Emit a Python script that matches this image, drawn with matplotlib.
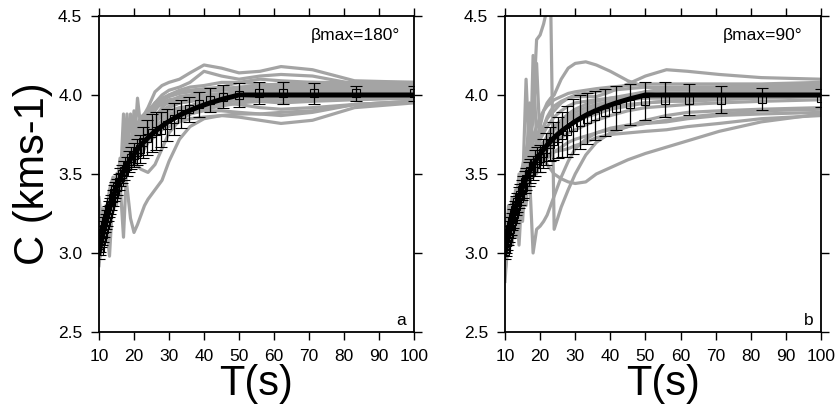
# %%
# Phase velocity dispersion curves, two panels (a, b)
import matplotlib
matplotlib.use('Agg')
import matplotlib.pyplot as plt

plt.rcParams['font.family'] = ['Liberation Sans', 'DejaVu Sans']

# %%
# Data

# periods of the measured points (s)
periods = [10.0, 10.2, 10.4, 10.6, 10.9, 11.1, 11.4, 11.6, 11.9, 12.2,
           12.5, 12.8, 13.2, 13.5, 13.9, 14.3, 14.7, 15.2, 15.6, 16.1,
           16.7, 17.2, 17.9, 18.5, 19.2, 20.0, 20.8, 21.7, 22.7, 23.8,
           25.0, 26.3, 27.8, 29.4, 31.3, 33.3, 35.7, 38.5, 41.7, 45.5,
           50.0, 55.6, 62.5, 71.4, 83.3, 100.0]

# reference model (thick black line)
model_c = [3.000, 3.025, 3.050, 3.075, 3.100, 3.125, 3.150, 3.175, 3.200, 3.225,
           3.250, 3.275, 3.300, 3.325, 3.350, 3.375, 3.400, 3.425, 3.450, 3.475,
           3.500, 3.525, 3.550, 3.575, 3.600, 3.625, 3.650, 3.675, 3.700, 3.725,
           3.750, 3.775, 3.800, 3.825, 3.850, 3.875, 3.900, 3.925, 3.950, 3.975,
           4.000, 4.000, 4.000, 4.000, 4.000, 4.000]

# mean + std of the measurements, panel a (beta max = 180)
mean_a = [3.01, 3.03, 3.05, 3.08, 3.10, 3.12, 3.15, 3.18, 3.20, 3.22,
          3.25, 3.28, 3.30, 3.32, 3.35, 3.38, 3.40, 3.42, 3.45, 3.48,
          3.50, 3.52, 3.55, 3.58, 3.60, 3.62, 3.64, 3.66, 3.70, 3.73,
          3.76, 3.77, 3.78, 3.81, 3.85, 3.88, 3.91, 3.94, 3.97, 3.99,
          4.00, 4.01, 4.01, 4.01, 4.01, 4.01]
err_a = [0.045, 0.045, 0.045, 0.045, 0.05, 0.05, 0.05, 0.05, 0.05, 0.05,
         0.05, 0.05, 0.05, 0.05, 0.05, 0.05, 0.05, 0.05, 0.05, 0.055,
         0.055, 0.06, 0.06, 0.065, 0.07, 0.075, 0.08, 0.09, 0.10, 0.11,
         0.12, 0.12, 0.11, 0.10, 0.10, 0.09, 0.08, 0.078, 0.076, 0.075,
         0.074, 0.07, 0.07, 0.065, 0.05, 0.045]

# mean + std of the measurements, panel b (beta max = 90)
mean_b = [3.01, 3.03, 3.05, 3.07, 3.10, 3.12, 3.15, 3.17, 3.20, 3.22,
          3.25, 3.27, 3.30, 3.32, 3.35, 3.37, 3.40, 3.42, 3.45, 3.47,
          3.50, 3.52, 3.54, 3.57, 3.59, 3.60, 3.63, 3.66, 3.69, 3.71,
          3.73, 3.75, 3.77, 3.80, 3.83, 3.85, 3.87, 3.89, 3.92, 3.94,
          3.96, 3.97, 3.97, 3.97, 3.975, 3.98]
err_b = [0.05, 0.05, 0.05, 0.05, 0.05, 0.05, 0.055, 0.055, 0.055, 0.06,
         0.06, 0.06, 0.06, 0.06, 0.065, 0.065, 0.065, 0.07, 0.07, 0.07,
         0.075, 0.075, 0.075, 0.08, 0.08, 0.085, 0.09, 0.10, 0.11, 0.12,
         0.13, 0.14, 0.16, 0.175, 0.17, 0.16, 0.155, 0.15, 0.14, 0.13,
         0.12, 0.11, 0.097, 0.085, 0.07, 0.056]

# periods at which the gray (single inversion) curves were read
grid_t = [10, 11, 12, 13, 14, 15, 16, 17, 18, 19, 20, 21, 22, 23, 24,
          26, 28, 30, 33, 36, 40, 45, 50, 56, 62, 71, 83, 100]

gray_a = [
    [3.10, 3.20, 3.15, 3.35, 3.30, 3.50, 3.45, 3.60, 3.70, 3.65, 3.75, 3.80, 3.85, 3.88, 3.92, 4.02, 4.06, 4.08, 4.10, 4.14, 4.19, 4.17, 4.14, 4.15, 4.18, 4.16, 4.09, 4.08],
    [2.95, 3.15, 3.25, 3.20, 3.40, 3.35, 3.55, 3.50, 3.62, 3.70, 3.68, 3.75, 3.78, 3.82, 3.85, 3.95, 4.00, 4.03, 4.05, 4.08, 4.15, 4.12, 4.10, 4.12, 4.13, 4.12, 4.07, 4.06],
    [3.05, 3.05, 3.25, 3.20, 3.40, 3.38, 3.50, 3.45, 3.55, 3.58, 3.60, 3.62, 3.65, 3.68, 3.70, 3.74, 3.78, 3.80, 3.83, 3.85, 3.86, 3.87, 3.86, 3.84, 3.82, 3.84, 3.92, 3.95],
    [3.00, 3.10, 3.20, 3.28, 3.35, 3.40, 3.45, 3.50, 3.42, 3.22, 3.13, 3.18, 3.24, 3.30, 3.34, 3.40, 3.46, 3.58, 3.72, 3.80, 3.85, 3.87, 3.88, 3.88, 3.89, 3.90, 3.94, 3.96],
    [3.02, 3.12, 3.22, 3.30, 3.34, 3.42, 3.46, 3.52, 3.56, 3.58, 3.58, 3.55, 3.53, 3.52, 3.51, 3.56, 3.66, 3.76, 3.84, 3.88, 3.91, 3.93, 3.95, 3.96, 3.97, 3.97, 3.98, 3.98],
    [3.00, 3.20, 3.10, 3.35, 3.30, 3.45, 3.40, 3.88, 3.55, 3.62, 3.70, 3.72, 3.75, 3.78, 3.80, 3.84, 3.86, 3.88, 3.90, 3.92, 3.95, 3.98, 4.02, 4.04, 4.04, 4.05, 4.06, 4.06],
    [3.10, 3.05, 3.30, 3.25, 3.45, 3.35, 3.60, 3.45, 3.85, 3.60, 3.65, 3.98, 3.78, 3.80, 3.82, 3.86, 3.90, 3.93, 3.95, 3.96, 3.98, 4.00, 4.03, 4.05, 4.06, 4.06, 4.07, 4.07],
    [2.92, 3.15, 3.20, 2.98, 3.38, 3.40, 3.35, 3.60, 3.50, 3.65, 3.60, 3.70, 3.73, 3.75, 3.76, 3.82, 3.88, 3.92, 3.95, 3.96, 3.97, 3.98, 4.00, 4.01, 4.02, 4.03, 4.04, 4.05],
    [3.05, 3.12, 3.25, 3.32, 3.28, 3.50, 3.45, 3.10, 3.60, 3.70, 3.62, 3.68, 3.72, 3.75, 3.78, 3.84, 3.88, 3.90, 3.92, 3.93, 3.95, 3.96, 3.97, 3.97, 3.97, 3.98, 3.99, 4.00],
    [3.20, 3.10, 3.22, 3.38, 3.35, 3.42, 3.55, 3.50, 3.58, 3.88, 3.66, 3.70, 3.75, 3.78, 3.80, 3.86, 3.92, 3.96, 3.99, 4.00, 4.02, 4.03, 4.04, 4.06, 4.06, 4.05, 4.04, 4.04],
    [2.95, 3.08, 3.18, 3.26, 3.40, 3.38, 3.48, 3.55, 3.52, 3.60, 3.70, 3.65, 3.70, 3.72, 3.74, 3.78, 3.82, 3.85, 3.88, 3.92, 3.94, 3.95, 3.94, 3.92, 3.91, 3.92, 3.94, 3.96],
    [3.35, 3.15, 3.30, 3.22, 3.32, 3.48, 3.42, 3.65, 3.58, 3.62, 3.90, 3.75, 3.80, 3.85, 3.90, 3.95, 3.98, 4.00, 4.02, 4.03, 4.04, 4.05, 4.08, 4.10, 4.09, 4.08, 4.07, 4.07],
    [3.00, 3.18, 3.12, 3.30, 3.45, 3.40, 3.52, 3.48, 3.62, 3.58, 3.68, 3.72, 3.70, 3.74, 3.76, 3.80, 3.84, 3.86, 3.90, 3.93, 3.96, 3.99, 4.00, 4.00, 4.01, 4.02, 4.02, 4.02],
    [3.08, 3.02, 3.28, 3.35, 3.30, 3.45, 3.50, 3.58, 3.88, 3.55, 3.64, 3.68, 3.66, 3.70, 3.72, 3.76, 3.80, 3.84, 3.86, 3.88, 3.92, 3.95, 3.97, 3.96, 3.95, 3.96, 3.97, 3.98],
    [2.98, 3.10, 3.24, 3.30, 3.36, 3.30, 3.50, 3.54, 3.58, 3.62, 3.62, 3.68, 3.76, 3.80, 3.84, 3.90, 3.96, 4.00, 4.03, 4.05, 4.06, 4.08, 4.08, 4.07, 4.06, 4.05, 4.05, 4.05],
    [3.12, 3.22, 3.18, 3.28, 3.42, 3.46, 3.40, 3.58, 3.62, 3.70, 3.75, 3.74, 3.80, 3.83, 3.86, 3.92, 3.95, 3.97, 3.98, 3.99, 4.00, 4.01, 4.02, 4.03, 4.04, 4.04, 4.05, 4.05],
    [3.02, 3.14, 3.20, 3.32, 3.30, 3.44, 3.48, 3.52, 3.50, 3.66, 3.72, 3.78, 3.82, 3.85, 3.88, 3.92, 3.94, 3.95, 3.96, 3.97, 3.99, 4.00, 4.01, 4.02, 4.02, 4.02, 4.03, 4.03],
    [3.05, 3.15, 3.20, 3.30, 3.35, 3.40, 3.50, 3.52, 3.58, 3.60, 3.64, 3.66, 3.70, 3.72, 3.74, 3.78, 3.82, 3.84, 3.86, 3.88, 3.90, 3.90, 3.89, 3.88, 3.87, 3.89, 3.94, 3.96],
    [3.15, 3.28, 3.22, 3.40, 3.48, 3.44, 3.58, 3.62, 3.66, 3.72, 3.78, 3.82, 3.86, 3.88, 3.90, 3.94, 3.97, 3.99, 4.01, 4.02, 4.03, 4.04, 4.05, 4.06, 4.07, 4.08, 4.08, 4.08],
    [2.96, 3.06, 3.14, 3.22, 3.26, 3.36, 3.38, 3.46, 3.50, 3.54, 3.56, 3.60, 3.62, 3.66, 3.70, 3.76, 3.82, 3.86, 3.90, 3.92, 3.94, 3.96, 3.97, 3.98, 3.99, 3.99, 4.00, 4.00],
]

gray_b = [
    [3.05, 3.15, 3.25, 3.35, 3.45, 3.55, 3.65, 3.75, 3.90, 4.35, 4.38, 4.45, 4.55, 4.60, 3.15, 3.29, 3.40, 3.50, 3.62, 3.70, 3.76, 3.80, 3.84, 3.87, 3.89, 3.90, 3.91, 3.92],
    [3.05, 3.15, 3.25, 3.30, 3.40, 3.45, 3.55, 3.60, 3.65, 3.70, 3.80, 3.90, 3.95, 3.98, 4.00, 4.10, 4.17, 4.20, 4.21, 4.19, 4.15, 4.09, 4.05, 4.04, 4.04, 4.04, 4.04, 4.04],
    [3.00, 3.10, 3.20, 3.28, 3.35, 3.40, 3.48, 3.55, 3.65, 3.70, 3.65, 3.60, 3.56, 3.53, 3.50, 3.47, 3.45, 3.44, 3.45, 3.50, 3.54, 3.59, 3.63, 3.67, 3.71, 3.77, 3.83, 3.88],
    [2.90, 3.20, 3.10, 3.35, 3.25, 3.50, 3.40, 3.45, 3.60, 3.55, 3.58, 3.60, 3.62, 3.63, 3.64, 3.65, 3.66, 3.68, 3.70, 3.73, 3.75, 3.76, 3.77, 3.78, 3.80, 3.82, 3.85, 3.87],
    [2.82, 3.15, 3.05, 3.30, 3.42, 3.20, 3.55, 3.48, 3.00, 3.15, 3.17, 3.20, 3.24, 3.30, 3.36, 3.48, 3.58, 3.66, 3.72, 3.76, 3.79, 3.81, 3.82, 3.84, 3.86, 3.88, 3.90, 3.91],
    [3.10, 3.00, 3.30, 3.20, 3.45, 3.40, 4.10, 3.60, 3.70, 3.75, 3.78, 3.80, 3.85, 3.88, 3.90, 3.95, 3.98, 3.99, 3.99, 3.99, 4.02, 4.07, 4.12, 4.16, 4.15, 4.13, 4.11, 4.10],
    [2.95, 3.25, 3.15, 3.40, 3.05, 3.45, 3.50, 3.65, 3.85, 4.20, 3.70, 3.60, 3.65, 3.70, 3.74, 3.80, 3.84, 3.87, 3.90, 3.93, 3.96, 3.99, 4.02, 4.04, 4.05, 4.05, 4.06, 4.06],
    [3.20, 3.05, 3.35, 3.25, 3.50, 3.40, 3.55, 3.95, 3.55, 3.60, 3.68, 3.70, 3.72, 3.76, 3.80, 3.84, 3.88, 3.91, 3.94, 3.96, 3.98, 4.00, 4.02, 4.03, 4.03, 4.03, 4.03, 4.03],
    [3.00, 3.12, 3.22, 3.18, 3.38, 3.30, 3.45, 3.50, 3.58, 3.62, 3.64, 3.66, 3.68, 3.70, 3.72, 3.76, 3.80, 3.83, 3.86, 3.88, 3.91, 3.93, 3.95, 3.96, 3.97, 3.98, 3.99, 4.00],
    [3.15, 3.08, 3.28, 3.34, 3.30, 3.48, 3.42, 3.55, 3.62, 3.60, 3.66, 3.70, 3.74, 3.78, 3.80, 3.82, 3.84, 3.86, 3.88, 3.90, 3.92, 3.94, 3.95, 3.96, 3.96, 3.97, 3.98, 3.99],
    [2.98, 3.18, 3.12, 3.26, 3.36, 3.44, 3.38, 3.52, 3.48, 3.58, 3.62, 3.64, 3.66, 3.68, 3.70, 3.73, 3.76, 3.78, 3.81, 3.84, 3.87, 3.90, 3.92, 3.93, 3.94, 3.95, 3.96, 3.97],
    [3.08, 3.20, 3.25, 3.30, 3.42, 3.50, 3.60, 3.68, 3.74, 3.80, 3.86, 3.90, 3.93, 3.95, 3.97, 3.99, 4.01, 4.02, 4.03, 4.04, 4.05, 4.06, 4.07, 4.07, 4.07, 4.07, 4.07, 4.08],
    [3.02, 3.10, 3.18, 3.22, 3.30, 3.35, 3.42, 3.46, 3.50, 3.54, 3.56, 3.58, 3.60, 3.62, 3.64, 3.67, 3.70, 3.72, 3.74, 3.76, 3.78, 3.80, 3.82, 3.83, 3.85, 3.87, 3.88, 3.89],
    [3.12, 3.02, 3.24, 3.38, 3.28, 3.46, 3.52, 3.44, 3.60, 3.66, 3.72, 3.76, 3.80, 3.83, 3.86, 3.90, 3.93, 3.95, 3.96, 3.97, 3.98, 3.99, 4.00, 4.01, 4.01, 4.02, 4.02, 4.02],
    [3.00, 3.30, 3.18, 3.10, 3.45, 3.32, 3.60, 3.40, 4.25, 3.70, 3.74, 3.80, 3.86, 3.90, 3.93, 3.96, 3.98, 4.00, 4.01, 4.02, 4.03, 4.04, 4.05, 4.05, 4.05, 4.05, 4.05, 4.05],
    [2.88, 3.05, 3.28, 3.20, 3.36, 3.48, 3.30, 3.62, 3.58, 3.50, 3.60, 3.66, 3.70, 3.74, 3.78, 3.82, 3.86, 3.89, 3.92, 3.94, 3.96, 3.97, 3.98, 3.98, 3.98, 3.99, 3.99, 4.00],
]

# %%
# Figure

fig = plt.figure(figsize=(8.38, 4.13), dpi=100)
ax_a = fig.add_axes([99 / 838, 81 / 413, 315 / 838, 316 / 413])
ax_b = fig.add_axes([505 / 838, 81 / 413, 316 / 838, 316 / 413])


def draw_panel(ax, curves, mean, err, label, tag):
    for c in curves:
        ax.plot(grid_t, c, color='#a4a4a4', lw=2.3, solid_joinstyle='round')
    ax.plot(periods, model_c, color='black', lw=3.6, solid_capstyle='butt')
    ax.errorbar(periods, mean, yerr=err, fmt='s', ms=5.5, mfc='none', mec='black',
                mew=0.8, ecolor='black', elinewidth=0.9, capsize=4, capthick=0.9)
    ax.set_xlim(10, 100)
    ax.set_ylim(2.5, 4.5)
    ax.set_xticks(range(10, 101, 10))
    ax.set_yticks([2.5, 3.0, 3.5, 4.0, 4.5])
    ax.set_yticklabels(['2.5', '3.0', '3.5', '4.0', '4.5'])
    ax.tick_params(direction='out', top=True, right=True, length=6, width=1.0,
                   labelsize=12.5, pad=6)
    for s in ax.spines.values():
        s.set_linewidth(1.3)
    ax.set_xlabel('T(s)', fontsize=30, labelpad=0)
    ax.text(0.815, 0.924, label, transform=ax.transAxes, ha='center', va='baseline',
            fontsize=12.5)
    ax.text(0.975, 0.022, tag, transform=ax.transAxes, ha='right', va='baseline',
            fontsize=12.5)


draw_panel(ax_a, gray_a, mean_a, err_a, 'βmax=180°', 'a')
draw_panel(ax_b, gray_b, mean_b, err_b, 'βmax=90°', 'b')
ax_a.set_ylabel('C (kms-1)', fontsize=30, labelpad=4)

fig.savefig('out.png', dpi=100)
